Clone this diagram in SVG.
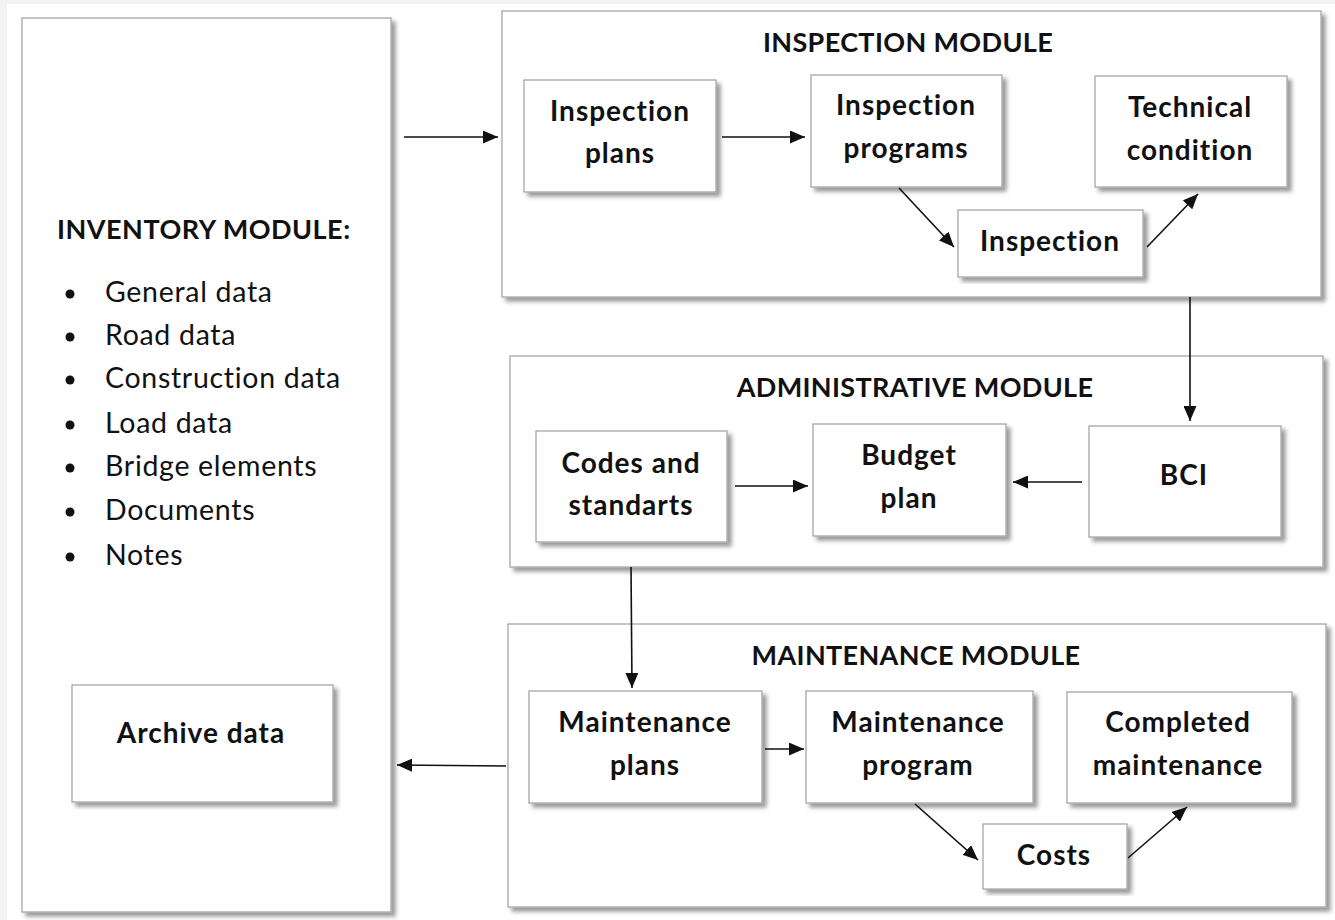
<svg xmlns="http://www.w3.org/2000/svg" width="1335" height="920" viewBox="0 0 1335 920">
<style>
.box{fill:#fff;stroke:#a6a6a6;stroke-width:1.3;filter:url(#sh)}
.t{font-family:Lato,"Open Sans","Liberation Sans",sans-serif;font-weight:bold;font-size:28px;letter-spacing:1px;fill:#111;text-anchor:middle}
.h{font-family:Lato,"Open Sans","Liberation Sans",sans-serif;font-weight:bold;font-size:27px;letter-spacing:0.35px;fill:#111;text-anchor:middle}
.l{font-family:Lato,"Open Sans","Liberation Sans",sans-serif;font-size:28.5px;letter-spacing:0.7px;fill:#111}
.c{stroke:#111;stroke-width:1.6;fill:none;marker-end:url(#ah)}
</style>
<defs>
<filter id="sh" x="-5%" y="-5%" width="115%" height="115%">
<feDropShadow dx="4" dy="4" stdDeviation="2.2" flood-color="#000" flood-opacity="0.4"/>
</filter>
<marker id="ah" viewBox="0 0 15 13" refX="15" refY="6.5" markerWidth="15" markerHeight="13" markerUnits="userSpaceOnUse" orient="auto">
<path d="M0,0 L15,6.5 L0,13 Z" fill="#111"/>
</marker>
</defs>
<rect x="0" y="0" width="1335" height="920" fill="#f3f3f3"/>
<rect x="7" y="4" width="1328" height="916" fill="#fff"/>

<g id="inventory">
<rect class="box" x="22" y="18" width="369" height="894"/>
<text class="h" x="57" y="239" style="text-anchor:start;letter-spacing:0.5px">INVENTORY MODULE:</text>
<g fill="#111">
<circle cx="70" cy="294" r="4.5"/><circle cx="70" cy="337" r="4.5"/><circle cx="70" cy="380" r="4.5"/><circle cx="70" cy="425" r="4.5"/><circle cx="70" cy="468" r="4.5"/><circle cx="70" cy="512" r="4.5"/><circle cx="70" cy="557" r="4.5"/>
</g>
<text class="l" x="105" y="302">General data</text>
<text class="l" x="105" y="345">Road data</text>
<text class="l" x="105" y="388">Construction data</text>
<text class="l" x="105" y="433">Load data</text>
<text class="l" x="105" y="476">Bridge elements</text>
<text class="l" x="105" y="520">Documents</text>
<text class="l" x="105" y="565">Notes</text>
</g>
<g id="archive">
<rect class="box" x="72" y="685" width="261" height="117"/>
<text class="t" x="201" y="743">Archive data</text>
</g>

<g id="inspection-module">
<rect class="box" x="502" y="11" width="819" height="286"/>
<text class="h" x="908" y="52">INSPECTION MODULE</text>
</g>
<g id="inspection-plans">
<rect class="box" x="524" y="80" width="192" height="112"/>
<text class="t" x="620" y="121">Inspection</text>
<text class="t" x="620" y="163">plans</text>
</g>
<g id="inspection-programs">
<rect class="box" x="811" y="75" width="191" height="112"/>
<text class="t" x="906" y="115">Inspection</text>
<text class="t" x="906" y="158">programs</text>
</g>
<g id="technical-condition">
<rect class="box" x="1095" y="76" width="192" height="111"/>
<text class="t" x="1190" y="117">Technical</text>
<text class="t" x="1190" y="160">condition</text>
</g>
<g id="inspection">
<rect class="box" x="958" y="210" width="185" height="67"/>
<text class="t" x="1050" y="251">Inspection</text>
</g>

<g id="administrative-module">
<rect class="box" x="510" y="356" width="813" height="211"/>
<text class="h" x="915" y="397">ADMINISTRATIVE MODULE</text>
</g>
<g id="codes">
<rect class="box" x="536" y="431" width="191" height="111"/>
<text class="t" x="631" y="473">Codes and</text>
<text class="t" x="631" y="515">standarts</text>
</g>
<g id="budget">
<rect class="box" x="813" y="424" width="193" height="112"/>
<text class="t" x="909" y="465">Budget</text>
<text class="t" x="909" y="508">plan</text>
</g>
<g id="bci">
<rect class="box" x="1089" y="426" width="192" height="111"/>
<text class="t" x="1184" y="485">BCI</text>
</g>

<g id="maintenance-module">
<rect class="box" x="508" y="624" width="818" height="283"/>
<text class="h" x="916" y="665">MAINTENANCE MODULE</text>
</g>
<g id="maintenance-plans">
<rect class="box" x="529" y="691" width="233" height="112"/>
<text class="t" x="645" y="732">Maintenance</text>
<text class="t" x="645" y="775">plans</text>
</g>
<g id="maintenance-program">
<rect class="box" x="806" y="691" width="227" height="112"/>
<text class="t" x="918" y="732">Maintenance</text>
<text class="t" x="918" y="775">program</text>
</g>
<g id="completed-maintenance">
<rect class="box" x="1067" y="692" width="225" height="111"/>
<text class="t" x="1178" y="732">Completed</text>
<text class="t" x="1178" y="775">maintenance</text>
</g>
<g id="costs">
<rect class="box" x="983" y="824" width="144" height="65"/>
<text class="t" x="1054" y="865">Costs</text>
</g>

<g id="connectors">
<line class="c" x1="404" y1="137" x2="498" y2="137"/>
<line class="c" x1="722" y1="137" x2="805" y2="137"/>
<line class="c" x1="899" y1="188" x2="954" y2="247"/>
<line class="c" x1="1147" y1="247" x2="1198" y2="194"/>
<line class="c" x1="1190" y1="297" x2="1190" y2="421"/>
<line class="c" x1="735" y1="486" x2="808" y2="486"/>
<line class="c" x1="1082" y1="482" x2="1013" y2="482"/>
<line class="c" x1="631" y1="567" x2="632" y2="688"/>
<line class="c" x1="765" y1="749" x2="804" y2="749"/>
<line class="c" x1="506" y1="766" x2="397" y2="765"/>
<line class="c" x1="915" y1="804" x2="978" y2="860"/>
<line class="c" x1="1128" y1="858" x2="1187" y2="807"/>
</g>
</svg>
